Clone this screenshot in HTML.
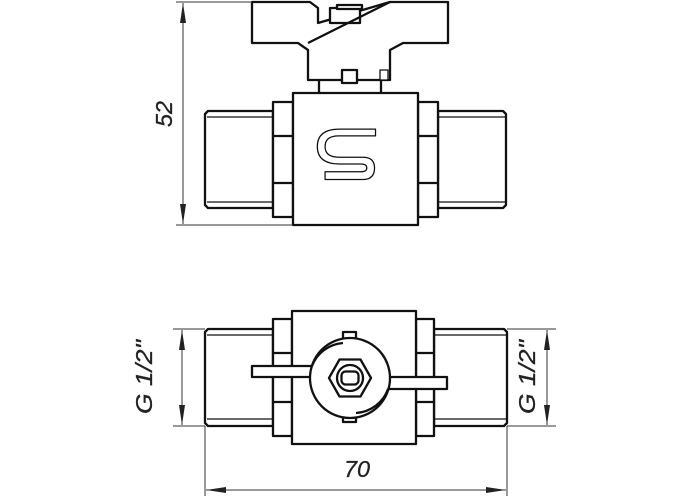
<!DOCTYPE html>
<html><head><style>html,body{margin:0;padding:0;background:#fff}svg{display:block}</style></head>
<body>
<svg width="700" height="500" viewBox="0 0 700 500" xmlns="http://www.w3.org/2000/svg">
<defs>
<marker id="ar" viewBox="0 0 20 6" refX="20" refY="3" markerWidth="20" markerHeight="6" markerUnits="userSpaceOnUse" orient="auto"><path d="M0,0 L20,3 L0,6 Z" fill="#222"/></marker>
</defs>
<g fill="#fff" stroke="#111" stroke-width="2.3" stroke-linejoin="round">
<!-- TOP VIEW -->
<path d="M208,111 L273,111 L273,208 L208,208 L205,205 L205,114 Z"/>
<line x1="207" y1="117" x2="273" y2="117" stroke-width="1.2"/>
<line x1="207" y1="202" x2="273" y2="202" stroke-width="1.2"/>
<path d="M438,111 L503,111 L506,114 L506,205 L503,208 L438,208 Z"/>
<line x1="438" y1="117" x2="505" y2="117" stroke-width="1.2"/>
<line x1="438" y1="202" x2="505" y2="202" stroke-width="1.2"/>
<rect x="273" y="102" width="20" height="115"/>
<line x1="273" y1="136" x2="293" y2="136"/><line x1="273" y1="183" x2="293" y2="183"/>
<rect x="418" y="102" width="20" height="115"/>
<line x1="418" y1="136" x2="438" y2="136"/><line x1="418" y1="183" x2="438" y2="183"/>
<path d="M319,80 L319,93 Q350,100 381,93 L381,80"/>
<rect x="293" y="93" width="125" height="132"/>
<path d="M383,137 L345,137 Q331,137 331,148 Q331,159 345,159 L370,159 Q382,159 382,170 Q382,182 370,182 L331,182 L331,174 L368,174 Q374,174 374,170 Q374,166 368,166 L346,166 Q323,166 323,148 Q323,130 346,130 L383,130 Z" stroke-width="1.3" transform="translate(4,3) scale(0.97)"/>
<path d="M252,2 L310,2 L318,8 L318,23 L390,2 L448,2 L448,43 L403,43 L390,50 L390,80 L308,80 L308,50 L298,43 L252,43 Z"/>
<rect x="330" y="8" width="30" height="15"/>
<rect x="337" y="5" width="25" height="4"/>
<line x1="390" y1="2" x2="308" y2="43"/>
<rect x="342" y="70" width="15" height="13"/>
<rect x="380" y="70" width="8" height="10" stroke-width="1.3"/>

<!-- BOTTOM VIEW -->
<path d="M208,329 L273,329 L273,426 L208,426 L205,423 L205,332 Z"/>
<line x1="207" y1="335" x2="273" y2="335" stroke-width="1.2"/>
<line x1="207" y1="419" x2="273" y2="419" stroke-width="1.2"/>
<path d="M434,329 L504,329 L507,332 L507,423 L504,426 L434,426 Z"/>
<line x1="434" y1="335" x2="506" y2="335" stroke-width="1.2"/>
<line x1="434" y1="419" x2="506" y2="419" stroke-width="1.2"/>
<rect x="273" y="319" width="19" height="117"/>
<line x1="273" y1="353" x2="292" y2="353"/><line x1="273" y1="402" x2="292" y2="402"/>
<rect x="416" y="319" width="18" height="117"/>
<line x1="416" y1="353" x2="434" y2="353"/><line x1="416" y1="402" x2="434" y2="402"/>
<rect x="292" y="311" width="124" height="133"/>
<rect x="343" y="332" width="13" height="8"/>
<rect x="343" y="413" width="13" height="9"/>
<rect x="252" y="366" width="62" height="11"/>
<rect x="386" y="377" width="61" height="12"/>
<circle cx="350" cy="378" r="40"/>
<path d="M312,366 A36,36 0 0 1 343,343" fill="none"/>
<path d="M388,389 A36,36 0 0 1 356,413" fill="none"/>
<polygon points="329,378 339.5,359.5 360.5,359.5 371,378 360.5,396.5 339.5,396.5"/>
<circle cx="350" cy="378" r="13"/>
<rect x="341.5" y="371.5" width="17" height="13" rx="4"/>
</g>
<g stroke="#333" stroke-width="1" fill="none">
<line x1="176" y1="2" x2="252" y2="2"/>
<line x1="176" y1="225" x2="293" y2="225"/>
<line x1="183" y1="114" x2="183" y2="3" marker-end="url(#ar)"/>
<line x1="183" y1="114" x2="183" y2="224" marker-end="url(#ar)"/>
<line x1="173" y1="329" x2="205" y2="329"/>
<line x1="173" y1="426" x2="205" y2="426"/>
<line x1="182" y1="378" x2="182" y2="330" marker-end="url(#ar)"/>
<line x1="182" y1="378" x2="182" y2="425" marker-end="url(#ar)"/>
<line x1="507" y1="329" x2="556" y2="329"/>
<line x1="507" y1="426" x2="556" y2="426"/>
<line x1="547" y1="378" x2="547" y2="330" marker-end="url(#ar)"/>
<line x1="547" y1="378" x2="547" y2="425" marker-end="url(#ar)"/>
<line x1="205" y1="426" x2="205" y2="496"/>
<line x1="507" y1="426" x2="507" y2="496"/>
<line x1="356" y1="490" x2="206" y2="490" marker-end="url(#ar)"/>
<line x1="356" y1="490" x2="506" y2="490" marker-end="url(#ar)"/>
</g>
<g font-family="Liberation Sans, sans-serif" font-style="italic" fill="#222" font-size="23" stroke="#222" stroke-width="0.3">
<text transform="translate(172,114) rotate(-90)" text-anchor="middle" textLength="26" lengthAdjust="spacingAndGlyphs">52</text>
<text transform="translate(152,377) rotate(-90)" text-anchor="middle" textLength="74" lengthAdjust="spacingAndGlyphs">G 1/2"</text>
<text transform="translate(535,377) rotate(-90)" text-anchor="middle" textLength="74" lengthAdjust="spacingAndGlyphs">G 1/2"</text>
<text x="357" y="477" text-anchor="middle" textLength="26" lengthAdjust="spacingAndGlyphs">70</text>
</g>
</svg>
</body></html>
